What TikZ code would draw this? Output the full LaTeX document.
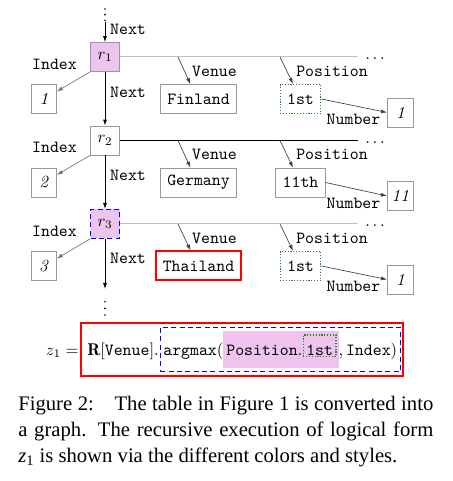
\documentclass[tikz,border=0pt]{standalone}
\usepackage{fontspec}
\usepackage{amsmath}
\usepackage{tikz}
\usetikzlibrary{arrows.meta,fit,backgrounds}
\newfontfamily\capfont{Liberation Serif}
\newcommand\figfont{\fontsize{10.2pt}{12.2pt}\selectfont}
\definecolor{hlpink}{RGB}{238,196,238}
\definecolor{posgreen}{RGB}{30,140,30}

\begin{document}
\begin{tikzpicture}[x=0.6pt,y=0.6pt,yscale=-1,xscale=1,font=\figfont,
    >={Latex[length=3.6pt,width=2.4pt]},
    rowbox/.style={draw=gray!80,minimum size=17.4pt,inner sep=0pt},
    idxbox/.style={draw=gray!80,minimum width=15pt,minimum height=17.4pt,inner sep=0pt},
    valbox/.style={draw=gray!80,minimum height=17.4pt,inner xsep=4.2pt,inner ysep=0pt,font=\figfont\ttfamily},
    numbox/.style={draw=gray!80,minimum width=15.6pt,minimum height=17.4pt,inner sep=0pt,anchor=west},
    lbl/.style={inner sep=0pt,font=\figfont\ttfamily},
    selbox/.style={draw=red,line width=1.2pt},
    curbox/.style={draw=blue,line width=0.6pt,dash pattern=on 3pt off 2pt},
    posbox/.style={draw=posgreen,line width=0.7pt,dash pattern=on 0.7pt off 1pt},
    vdotline/.style={line width=1.1pt,line cap=round,black},
    nextarr/.style={->,black,line width=0.5pt},
    idxarr/.style={->,black!55,line width=0.4pt},
    colarr/.style={->,black!75,line width=0.4pt},
    ftext/.style={inner sep=0pt,text height=9.5pt,text depth=3pt}]
\useasboundingbox (0,0) rectangle (452,481);
%Top dots
\draw[vdotline,dash pattern=on 0pt off 3.4pt] (105,9) -- (105,21);
\coordinate (topdots) at (105,22.5);
\node[lbl] (nexttop) at (128,29.5) {Next};
%Row 1
\node[rowbox,fill=hlpink] (r1) at (105,57) {$r_1$};
\node[idxbox] (idx1) at (44,99) {\textit{1}};
\node[lbl] (index1) at (54.5,64) {Index};
\node[inner xsep=4.2pt,inner ysep=0pt,anchor=base west] (dots1) at (358,60) {$\dots$};
\coordinate (vt1) at (178,57);
\coordinate (pt1) at (280,57);
\node[valbox] (venue1) at (198.5,99) {Finland};
\node[lbl] (venuelbl1) at (214.5,71) {Venue};
\node[valbox,posbox] (pos1) at (300.5,99) {1st};
\node[lbl] (poslbl1) at (332,71) {Position};
\node[numbox] (num1) at (387,112.5) {\textit{1}};
\node[lbl] (numlbl1) at (353.5,119.5) {Number};
\node[lbl] (next1) at (128,92) {Next};
%Row 2
\node[rowbox] (r2) at (105,140.5) {$r_2$};
\node[idxbox] (idx2) at (44,182.5) {\textit{2}};
\node[lbl] (index2) at (54.5,147.5) {Index};
\node[inner xsep=4.2pt,inner ysep=0pt,anchor=base west] (dots2) at (358,143.5) {$\dots$};
\coordinate (vt2) at (178,140.5);
\coordinate (pt2) at (280,140.5);
\node[valbox] (venue2) at (198.5,182.5) {Germany};
\node[lbl] (venuelbl2) at (214.5,154.5) {Venue};
\node[valbox] (pos2) at (300.5,182.5) {11th};
\node[lbl] (poslbl2) at (332,154.5) {Position};
\node[numbox] (num2) at (387,196) {\textit{11}};
\node[lbl] (numlbl2) at (353.5,203) {Number};
\node[lbl] (next2) at (128,175.5) {Next};
%Row 3
\node[rowbox,fill=hlpink,curbox] (r3) at (105,224) {$r_3$};
\node[idxbox] (idx3) at (44,266) {\textit{3}};
\node[lbl] (index3) at (54.5,231) {Index};
\node[inner xsep=4.2pt,inner ysep=0pt,anchor=base west] (dots3) at (358,227) {$\dots$};
\coordinate (vt3) at (178,224);
\coordinate (pt3) at (280,224);
\node[valbox,selbox] (venue3) at (198.5,266) {Thailand};
\node[lbl] (venuelbl3) at (214.5,238) {Venue};
\node[valbox,posbox] (pos3) at (300.5,266) {1st};
\node[lbl] (poslbl3) at (332,238) {Position};
\node[numbox] (num3) at (387,279.5) {\textit{1}};
\node[lbl] (numlbl3) at (353.5,286.5) {Number};
\node[lbl] (next3) at (128,258) {Next};
%Bottom dots
\coordinate (botdots) at (105,289);
\draw[vdotline,dash pattern=on 0pt off 4pt] (105,301.7) -- (105,315.2);
%Straight Lines
\draw[line width=0.6pt,gray!50] (r1.east) -- (r1.east -| dots1.west);
\draw[line width=0.6pt,black] (r2.east) -- (r2.east -| dots2.west);
\draw[line width=0.6pt,gray!50] (r3.east) -- (r3.east -| dots3.west);
%Arrows
\draw[nextarr] (topdots) -- (r1.north);
\draw[nextarr] (r1.south) -- (r2.north);
\draw[nextarr] (r2.south) -- (r3.north);
\draw[nextarr] (r3.south) -- (botdots);
\draw[idxarr] (r1.south west) -- (idx1);
\draw[idxarr] (r2.south west) -- (idx2);
\draw[idxarr] (r3.south west) -- (idx3);
\draw[colarr] (vt1) -- ([xshift=-4.8pt]venue1.north);
\draw[colarr] (vt2) -- ([xshift=-4.8pt]venue2.north);
\draw[colarr] (vt3) -- ([xshift=-4.8pt]venue3.north);
\draw[colarr] (pt1) -- ([xshift=-4.5pt]pos1.north);
\draw[colarr] (pt2) -- ([xshift=-4.5pt]pos2.north);
\draw[colarr] (pt3) -- ([xshift=-4.5pt]pos3.north);
\draw[colarr] (pos1.east) -- (num1.west);
\draw[colarr] (pos2.east) -- (num2.west);
\draw[colarr] (pos3.east) -- (num3.west);
%Logical form
\node[inner sep=0pt,anchor=base east] (zeq) at (79,355) {$z_1 =$};
\node[ftext,anchor=base west] (rv) at (87,355) {$\mathbf{R}[\texttt{Venue}].$};
\node[ftext,anchor=base west] (am) at (163,355) {$\texttt{argmax}($};
\node[ftext,anchor=base west] (posn) at (226,355) {$\texttt{Position}.$};
\node[posbox,anchor=base west,inner xsep=1.8pt,inner ysep=1pt,text height=11pt,text depth=0pt] (first) at (302.7,355) {\texttt{1st}};
\node[ftext,anchor=base east] (rest) at (397.5,355) {$,\texttt{Index})$};
\begin{scope}[on background layer]
\node[fit=(rv)(rest),selbox,inner xsep=3.5pt,inner ysep=9.45pt] (redbox) {};
\node[fit=(am)(rest),curbox,inner xsep=1.6pt,inner ysep=6.95pt] (bluebox) {};
\node[fit=(posn)(first.east),fill=hlpink,inner xsep=1.6pt,inner ysep=4.75pt] (pinkbox) {};
\end{scope}
% Text Node
\node[anchor=base west,inner sep=0pt,text width=249pt,align=justify,
  font=\capfont\fontsize{12.4pt}{15.6pt}\selectfont] (caption) at (18,410)
  {Figure 2:\quad The table in Figure 1 is converted into\linebreak a graph.  The recursive execution of logical form\linebreak {\itshape z}\textsubscript{1} is shown via the different colors and styles.};
\end{tikzpicture}
\end{document}
